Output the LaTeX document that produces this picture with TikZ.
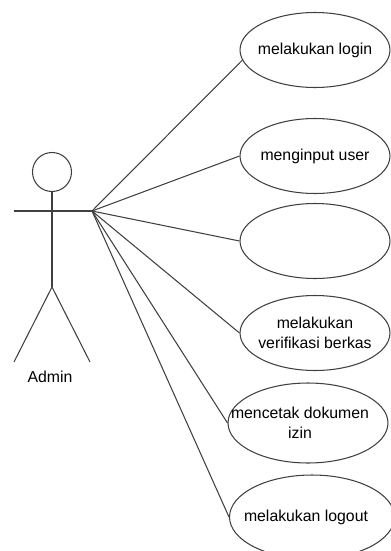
\documentclass[tikz,border=0pt]{standalone}
\usepackage{fontspec}
\setmainfont{Liberation Sans}
\usetikzlibrary{shapes.geometric}

\begin{document}
\begin{tikzpicture}[x=0.02cm, y=-0.02cm,
		line width=0.6pt, draw=black!75,
		usecase/.style={draw, ellipse, minimum width=3cm, minimum height=1.5cm, inner sep=0pt},
		casetext/.style={align=center, font=\fontsize{9}{11.5}\selectfont, inner sep=0pt}]
		\useasboundingbox (0,0) rectangle (390,551);

		% actor
		\draw (52,172) circle[radius=19.5];
		\draw (52,191) -- (52,287);
		\draw (14,362) -- (52,287) -- (90,362);
		\coordinate (hand) at (92,211);
		\draw (14,211) -- (hand);
		\node[casetext] (admin) at (50,377) {Admin};

		% use cases
		\node[usecase, label={[casetext]center:melakukan login}] (login) at (315,50) {};
		\node[usecase, label={[casetext]center:menginput user}] (input) at (315,156) {};
		\node[usecase] (kosong) at (315,241) {};
		\node[usecase, label={[casetext]center:melakukan\\verifikasi berkas}] (verif) at (315,333) {};
		\node[usecase, minimum width=3.2cm, minimum height=1.6cm, label={[casetext, xshift=-0.16cm]center:mencetak dokumen\\izin}] (cetak) at (308,423) {};
		\node[usecase, minimum width=3.3cm, minimum height=1.68cm, label={[casetext, xshift=-0.12cm]center:melakukan logout}] (logout) at (312,517) {};

		\draw (hand) -- (login.188);
		\draw (hand) -- (input.west);
		\draw (hand) -- (kosong.west);
		\draw (hand) -- (verif.west);
		\draw (hand) -- (cetak.west);
		\draw (hand) -- (logout.west);
	\end{tikzpicture}
\end{document}
